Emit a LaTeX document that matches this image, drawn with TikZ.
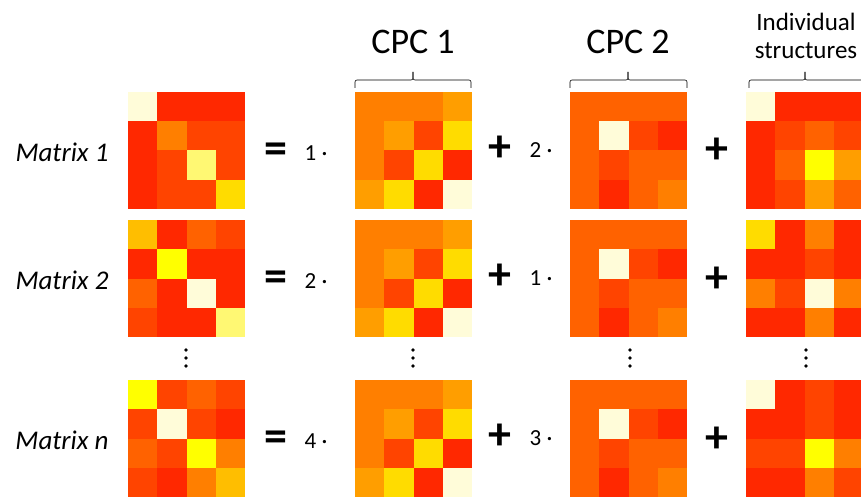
\documentclass[tikz,border=0pt]{standalone}
\usepackage{fontspec}
\setmainfont{Carlito}
\definecolor{cr}{HTML}{FFFCD9}
\definecolor{yy}{HTML}{FFFF00}
\definecolor{ly}{HTML}{FFF873}
\definecolor{gd}{HTML}{FFDC00}
\definecolor{am}{HTML}{FFBE00}
\definecolor{oa}{HTML}{FF9E00}
\definecolor{ob}{HTML}{FF7F00}
\definecolor{oc}{HTML}{FF6200}
\definecolor{od}{HTML}{FF4400}
\definecolor{rd}{HTML}{FF2800}
\newcommand\drawmat[3]{%
  \foreach \c [count=\i from 0] in {#3} {
    \pgfmathtruncatemacro\mrow{div(\i,4)}
    \pgfmathtruncatemacro\mcol{mod(\i,4)}
    \fill[\c] ({#1+\mcol*29.25},{#2+\mrow*29.25}) rectangle ++(29.4,29.4);
  }}
\begin{document}
\begin{tikzpicture}[x=1pt,y=-1pt,
  head/.style={font=\fontsize{36}{40}\selectfont},
  headsm/.style={font=\fontsize{25}{28}\selectfont,align=center},
  mlabel/.style={font=\fontsize{27}{30}\selectfont\itshape},
  opsign/.style={font=\fontsize{46}{50}\selectfont\bfseries},
  coef/.style={font=\fontsize{23}{26}\selectfont},
  brace/.style={line width=0.6pt,black},
  dot/.style={fill=black}]
\useasboundingbox (0,0) rectangle (861,497);
\fill[white] (0,0) rectangle (861,497);
% row 1
\drawmat{128}{92}{cr,rd,rd,rd, rd,ob,od,od, rd,od,ly,od, rd,od,od,gd}
\drawmat{355}{92}{ob,ob,ob,oa, ob,oa,od,gd, ob,od,gd,rd, oa,gd,rd,cr}
\drawmat{570}{92}{oc,oc,oc,oc, oc,cr,od,rd, oc,od,oc,oc, oc,rd,oc,ob}
\drawmat{746}{92}{cr,rd,rd,rd, rd,od,oc,od, rd,oc,yy,oa, rd,od,oa,oc}
% row 2
\drawmat{128}{220}{am,rd,oc,od, rd,yy,rd,rd, oc,rd,cr,rd, od,rd,rd,ly}
\drawmat{355}{220}{ob,ob,ob,oa, ob,oa,od,gd, ob,od,gd,rd, oa,gd,rd,cr}
\drawmat{570}{220}{oc,oc,oc,oc, oc,cr,od,rd, oc,od,oc,oc, oc,rd,oc,ob}
\drawmat{746}{220}{gd,rd,ob,rd, rd,rd,od,rd, ob,od,cr,ob, rd,rd,ob,rd}
% row 3
\drawmat{128}{380}{yy,od,oc,od, od,cr,od,rd, oc,od,yy,ob, od,rd,ob,am}
\drawmat{355}{380}{ob,ob,ob,oa, ob,oa,od,gd, ob,od,gd,rd, oa,gd,rd,cr}
\drawmat{570}{380}{oc,oc,oc,oc, oc,cr,od,rd, oc,od,oc,oc, oc,rd,oc,ob}
\drawmat{746}{380}{cr,rd,od,rd, rd,rd,od,rd, od,od,yy,ob, rd,rd,ob,od}
% headers
\node[head] (cpc1) at (413,42) {CPC 1};
\node[head] (cpc2) at (628,42) {CPC 2};
\node[headsm] (ind) at (806,36) {Individual\\structures};
\draw[brace,rounded corners=2pt] (355,88) -- (355,80) -- (413,80) -- (413,72);
\draw[brace,rounded corners=2pt] (413,72) -- (413,80) -- (471,80) -- (471,88);
\draw[brace,rounded corners=2pt] (570,88) -- (570,80) -- (628,80) -- (628,72);
\draw[brace,rounded corners=2pt] (628,72) -- (628,80) -- (687,80) -- (687,88);
\draw[brace,rounded corners=2pt] (749,88) -- (749,80) -- (805,80) -- (805,72);
\draw[brace,rounded corners=2pt] (805,72) -- (805,80) -- (866,80);
% row labels
\node[mlabel] (l1) at (62,152) {Matrix 1};
\node[mlabel] (l2) at (62,280) {Matrix 2};
\node[mlabel] (l3) at (62,440) {Matrix n};
% row 1 operators
\node[opsign] (e1) at (276,153) {=};
\node[coef] (c11) at (316,153) {1 ·};
\node[opsign] (p11) at (500,149) {+};
\node[coef] (c12) at (541,150) {2 ·};
\node[opsign] (p12) at (717,151) {+};
% row 2
\node[opsign] (e2) at (276,281) {=};
\node[coef] (c21) at (316,281) {2 ·};
\node[opsign] (p21) at (500,277) {+};
\node[coef] (c22) at (541,278) {1 ·};
\node[opsign] (p22) at (717,280) {+};
% row 3
\node[opsign] (e3) at (276,441) {=};
\node[coef] (c31) at (316,441) {4 ·};
\node[opsign] (p31) at (500,437) {+};
\node[coef] (c32) at (541,438) {3 ·};
\node[opsign] (p32) at (717,440) {+};
% vertical dots
\foreach \xx in {186,413,630,806} {
  \foreach \yy in {350,358,366} {
    \fill[dot] (\xx,\yy) circle (1.8);
  }
}
\end{tikzpicture}
\end{document}
